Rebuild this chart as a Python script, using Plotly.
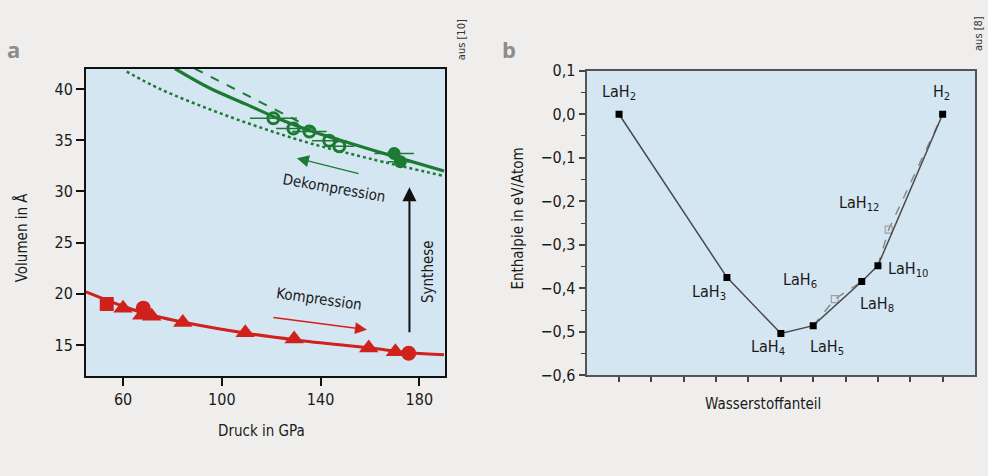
import plotly.graph_objects as go

# ---------------- Panel a data ----------------
red_curve_x = [45, 60, 70, 85, 110, 130, 160, 176, 190]
red_curve_y = [20.2, 18.8, 18.0, 17.2, 16.15, 15.5, 14.7, 14.25, 14.05]
red_square_x = [53.4]
red_square_y = [19.0]
red_tri_x = [60, 67.6, 71.6, 84.2, 109.5, 129.3, 159.5, 170.3]
red_tri_y = [18.6, 17.9, 17.8, 17.2, 16.2, 15.6, 14.7, 14.35]
red_circ_x = [68.2, 175.7]
red_circ_y = [18.6, 14.2]

green_solid_x = [81, 95, 110, 121, 135, 148, 170, 190]
green_solid_y = [42.0, 40.1, 38.5, 37.3, 36.0, 35.0, 33.4, 32.0]
green_dash_x = [89, 102, 115, 128, 138]
green_dash_y = [42.0, 40.4, 38.8, 37.2, 36.0]
green_dot_x = [61.5, 75, 95.3, 115.5, 135.8, 160, 190]
green_dot_y = [41.7, 40.0, 38.0, 36.25, 34.7, 33.2, 31.5]
green_open_x = [120.9, 129, 135.5, 143.5, 147.6]
green_open_y = [37.15, 36.15, 35.85, 34.96, 34.4]
green_open_err = [9.5, 7, 7, 7, 6]
green_fill_x = [169.8, 172.3]
green_fill_y = [33.7, 32.9]
green_fill_err = [8, 5]

a_xticks = [60, 100, 140, 180]
a_yticks = [15, 20, 25, 30, 35, 40]

# ---------------- Panel b data ----------------
phase_names = ["LaH<sub>2</sub>", "LaH<sub>3</sub>", "LaH<sub>4</sub>", "LaH<sub>5</sub>",
               "LaH<sub>8</sub>", "LaH<sub>10</sub>", "H<sub>2</sub>"]
hull_x = [0.0, 1/3, 0.5, 0.6, 0.75, 0.8, 1.0]
hull_y = [0.0, -0.375, -0.504, -0.486, -0.3845, -0.348, 0.0]
meta_names = ["LaH<sub>6</sub>", "LaH<sub>12</sub>"]
meta_x = [2/3, 5/6]
meta_y = [-0.425, -0.265]
dash_x = [0.6, 2/3, 0.75, None, 0.8, 5/6, 1.0]
dash_y = [-0.486, -0.425, -0.3845, None, -0.348, -0.265, 0.0]

b_yticks = [0.1, 0.0, -0.1, -0.2, -0.3, -0.4, -0.5, -0.6]
b_yticktext = ["0,1", "0,0", "\u22120,1", "\u22120,2", "\u22120,3", "\u22120,4", "\u22120,5", "\u22120,6"]
b_xticks = [0, 0.1, 0.2, 0.3, 0.4, 0.5, 0.6, 0.7, 0.8, 0.9, 1.0]

# label positions (data coords) for panel b
label_names = ["LaH<sub>2</sub>", "H<sub>2</sub>", "LaH<sub>12</sub>", "LaH<sub>3</sub>", "LaH<sub>6</sub>",
               "LaH<sub>4</sub>", "LaH<sub>5</sub>", "LaH<sub>8</sub>", "LaH<sub>10</sub>"]
label_x = [0.0, 0.998, 0.74, 0.277, 0.558, 0.461, 0.644, 0.797, 0.894]
label_y = [0.05, 0.05, -0.206, -0.409, -0.382, -0.537, -0.537, -0.437, -0.357]

FONT = "Liberation Sans Narrow, DejaVu Sans Condensed, Arial Narrow, sans-serif"
RED = "#d0211c"
GREEN = "#1d7a33"
PAGE = "#efeeec"
PLOT = "#d5e6f3"
TXT = "#1a1a1a"

fig = go.Figure()

fig.add_shape(type="rect", xref="x2 domain", yref="y2 domain", x0=0, x1=1, y0=0, y1=1,
              fillcolor=PLOT, line=dict(width=0), layer="below")

# ---- panel a traces ----
fig.add_trace(go.Scatter(x=green_dot_x, y=green_dot_y, mode="lines", line_shape="spline",
                         line=dict(color=GREEN, width=2.5, dash="dot"), xaxis="x", yaxis="y"))
fig.add_trace(go.Scatter(x=green_dash_x, y=green_dash_y, mode="lines", line_shape="spline",
                         line=dict(color=GREEN, width=2, dash="dash"), xaxis="x", yaxis="y"))
fig.add_trace(go.Scatter(x=green_solid_x, y=green_solid_y, mode="lines", line_shape="spline",
                         line=dict(color=GREEN, width=3.2), xaxis="x", yaxis="y"))
fig.add_trace(go.Scatter(x=green_open_x, y=green_open_y, mode="markers",
                         marker=dict(symbol="circle-open", size=11, color=GREEN, line=dict(width=3, color=GREEN)),
                         error_x=dict(type="data", array=green_open_err, color=GREEN, thickness=1.5, width=0),
                         xaxis="x", yaxis="y"))
fig.add_trace(go.Scatter(x=green_fill_x, y=green_fill_y, mode="markers",
                         marker=dict(symbol="circle", size=13, color=GREEN),
                         error_x=dict(type="data", array=green_fill_err, color=GREEN, thickness=1.5, width=0),
                         xaxis="x", yaxis="y"))
fig.add_trace(go.Scatter(x=red_curve_x, y=red_curve_y, mode="lines", line_shape="spline",
                         line=dict(color=RED, width=3), xaxis="x", yaxis="y"))
fig.add_trace(go.Scatter(x=red_square_x, y=red_square_y, mode="markers",
                         marker=dict(symbol="square", size=14, color=RED), xaxis="x", yaxis="y"))
fig.add_trace(go.Scatter(x=red_tri_x, y=red_tri_y, mode="markers",
                         marker=dict(symbol="triangle-up", size=17, color=RED), xaxis="x", yaxis="y"))
fig.add_trace(go.Scatter(x=red_circ_x, y=red_circ_y, mode="markers",
                         marker=dict(symbol="circle", size=15, color=RED), xaxis="x", yaxis="y"))

# ---- panel b traces ----
fig.add_trace(go.Scatter(x=dash_x, y=dash_y, mode="lines",
                         line=dict(color="#8a8a8a", width=1.5, dash="dash"), xaxis="x2", yaxis="y2"))
fig.add_trace(go.Scatter(x=meta_x, y=meta_y, mode="markers", text=meta_names,
                         marker=dict(symbol="square-open", size=7, color="#a0a0a0", line=dict(width=1.2)),
                         xaxis="x2", yaxis="y2"))
fig.add_trace(go.Scatter(x=hull_x, y=hull_y, mode="lines+markers", text=phase_names,
                         line=dict(color="#4a4a4a", width=1.5),
                         marker=dict(symbol="square", size=7, color="#000000"),
                         xaxis="x2", yaxis="y2"))

annotations = []
for name, lx, ly in zip(label_names, label_x, label_y):
    annotations.append(dict(x=lx, y=ly, xref="x2", yref="y2", text=name, showarrow=False,
                            xanchor="center", yanchor="middle",
                            font=dict(family=FONT, size=16, color=TXT)))


def paper_text(px, py, text, size=15, angle=0, family=FONT, color=TXT):
    return dict(x=px / 988, y=1 - py / 476, xref="paper", yref="paper", text=text, showarrow=False,
                xanchor="center", yanchor="middle", textangle=angle,
                font=dict(family=family, size=size, color=color))


annotations += [
    dict(x=130.4, y=33.25, ax=156, ay=31.7, xref="x", yref="y", axref="x", ayref="y",
         showarrow=True, arrowhead=2, arrowsize=1.6, arrowwidth=1.5, arrowcolor=GREEN, text=""),
    dict(x=145.3, y=30.3, xref="x", yref="y", text="Dekompression", showarrow=False, textangle=10,
         xanchor="center", yanchor="middle", font=dict(family=FONT, size=15, color=TXT)),
    dict(x=158.8, y=16.5, ax=120.3, ay=17.7, xref="x", yref="y", axref="x", ayref="y",
         showarrow=True, arrowhead=2, arrowsize=1.6, arrowwidth=1.5, arrowcolor=RED, text=""),
    dict(x=139.2, y=19.5, xref="x", yref="y", text="Kompression", showarrow=False, textangle=8,
         xanchor="center", yanchor="middle", font=dict(family=FONT, size=15, color=TXT)),
    dict(x=176, y=30.4, ax=176, ay=16.1, xref="x", yref="y", axref="x", ayref="y",
         showarrow=True, arrowhead=2, arrowsize=1.4, arrowwidth=2, arrowcolor="#111111", text=""),
    dict(x=183.8, y=22.2, xref="x", yref="y", text="Synthese", showarrow=False, textangle=-90,
         xanchor="center", yanchor="middle", font=dict(family=FONT, size=15, color=TXT)),
    paper_text(21.7, 238, "Volumen in \u00c5", angle=-90),
    paper_text(261, 440, "Druck in GPa"),
    paper_text(518.3, 218, "Enthalpie in eV/Atom", angle=-90),
    paper_text(762.7, 411.7, "Wasserstoffanteil"),
    paper_text(13, 42, "<b>a</b>", size=22, family="Open Sans, DejaVu Sans, sans-serif", color="#8c8c8c"),
    paper_text(509, 42, "<b>b</b>", size=22, family="Open Sans, DejaVu Sans, sans-serif", color="#8c8c8c"),
    paper_text(461.7, 31.7, "aus [10]", size=11, angle=-90, color="#333333"),
    paper_text(979, 26, "aus [8]", size=11, angle=-90, color="#333333"),
]

tickfont = dict(family=FONT, size=16, color=TXT)

fig.update_layout(
    width=988, height=476,
    margin=dict(l=0, r=0, t=0, b=0),
    paper_bgcolor=PAGE,
    plot_bgcolor=PLOT,
    showlegend=False,
    annotations=annotations,
    xaxis=dict(domain=[86 / 988, 445 / 988], range=[45, 190.4], tickvals=a_xticks,
               ticks="outside", ticklen=8, tickwidth=1.5, tickcolor="#111111",
               showline=True, mirror=True, linecolor="#111111", linewidth=2,
               showgrid=False, zeroline=False, tickfont=tickfont, anchor="y"),
    yaxis=dict(domain=[1 - 382 / 476, 1 - 62 / 476], range=[12, 42], tickvals=a_yticks,
               ticks="outside", ticklen=8, tickwidth=1.5, tickcolor="#111111",
               showline=True, mirror=True, linecolor="#111111", linewidth=2,
               showgrid=False, zeroline=False, tickfont=tickfont, anchor="x"),
    xaxis2=dict(domain=[586.7 / 988, 975 / 988], range=[-0.1, 1.1], tickvals=b_xticks, showticklabels=False,
                ticks="outside", ticklen=5, tickwidth=1.5, tickcolor="#444444",
                showline=True, mirror=True, linecolor="#555555", linewidth=2,
                showgrid=False, zeroline=False, anchor="y2"),
    yaxis2=dict(domain=[1 - 381.5 / 476, 1 - 64.3 / 476], range=[-0.6, 0.1], tickvals=b_yticks,
                ticktext=b_yticktext,
                ticks="outside", ticklen=6, tickwidth=1.5, tickcolor="#444444",
                minor=dict(dtick=0.05, ticks="outside", ticklen=4, tickcolor="#444444", tickwidth=1.2),
                showline=True, mirror=True, linecolor="#555555", linewidth=2,
                showgrid=False, zeroline=False, tickfont=tickfont, anchor="x2"),
)

fig.write_html("out.html", config={"displayModeBar": False},
               post_script="document.body.style.margin='0';document.body.style.background='#efeeec';")
